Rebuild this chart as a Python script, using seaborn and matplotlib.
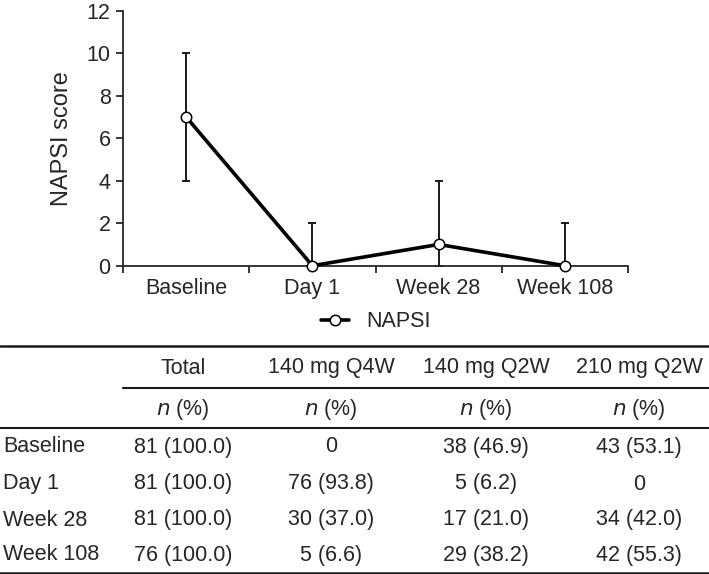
import numpy as np
import pandas as pd
import matplotlib
matplotlib.use('Agg')
import matplotlib.pyplot as plt
from matplotlib.lines import Line2D
import seaborn as sns

# ---- data ----
visits = ['Baseline', 'Day 1', 'Week 28', 'Week 108']
napsi_median = [7, 0, 1, 0]
napsi_low = [4, 0, 0, 0]
napsi_high = [10, 2, 4, 2]

col_heads = ['Total', '140 mg Q4W', '140 mg Q2W', '210 mg Q2W']
total_col = ['81 (100.0)', '81 (100.0)', '81 (100.0)', '76 (100.0)']
q4w_140_col = ['0', '76 (93.8)', '30 (37.0)', '5 (6.6)']
q2w_140_col = ['38 (46.9)', '5 (6.2)', '17 (21.0)', '29 (38.2)']
q2w_210_col = ['43 (53.1)', '0', '34 (42.0)', '42 (55.3)']

sns.set_style('ticks')
plt.rcParams['font.family'] = ['Liberation Sans', 'DejaVu Sans']
FS = 15.5

W, H = 709, 574
fig = plt.figure(figsize=(W / 100, H / 100), dpi=100)
ax = fig.add_axes([123 / W, 1 - 265.7 / H, (628 - 123) / W, (265.7 - 10.7) / H])

df = pd.DataFrame({'visit': visits, 'score': napsi_median})
pos = np.arange(len(visits))
med = np.array(napsi_median)
yerr = [med - np.array(napsi_low), np.array(napsi_high) - med]
ax.errorbar(pos, med, yerr=yerr, fmt='none', ecolor='#1a1a1a', elinewidth=1.4,
            capsize=3, capthick=1.4, zorder=2, clip_on=False)
sns.lineplot(data=df, x='visit', y='score', ax=ax, color='black', linewidth=2.6,
             marker='o', markersize=7.5, markerfacecolor='white',
             markeredgecolor='black', markeredgewidth=1.1, label='NAPSI',
             zorder=3, clip_on=False, sort=False)

ax.set_xlim(-0.5, 3.5)
ax.set_ylim(0, 12)
ax.set_yticks(range(0, 13, 2))
ax.set_xticks(np.arange(-0.5, 3.6, 1.0))
ax.set_xticklabels([])
ax.set_xticks(pos, minor=True)
ax.set_xticklabels(visits, minor=True)
ax.tick_params(axis='x', which='minor', length=0, pad=9, labelsize=FS)
ax.tick_params(axis='x', which='major', length=5, width=1.3, direction='out')
ax.tick_params(axis='y', length=5, width=1.3, labelsize=FS, pad=4)
ax.set_xlabel('')
ax.set_ylabel('NAPSI score', fontsize=FS + 1.5, labelpad=10)
for s in ['top', 'right']:
    ax.spines[s].set_visible(False)
for s in ['left', 'bottom']:
    ax.spines[s].set_linewidth(1.3)

leg = ax.legend(loc='center', bbox_to_anchor=(0.5, -0.22), frameon=False,
                fontsize=FS, handlelength=1.3, handletextpad=0.8)

# ---- table underneath ----
tab = fig.add_axes([0, 0, 1, 1])
tab.set_xlim(0, W)
tab.set_ylim(H, 0)
tab.axis('off')

for y, x0, lw in [(346, 0, 1.8), (388, 123, 1.5), (428, 0, 1.5), (573, 0, 1.8)]:
    tab.add_line(Line2D([x0, W], [y, y], color='#1a1a1a', lw=lw))

col_x = [183, 331, 486, 639]
for cx, head in zip(col_x, col_heads):
    tab.text(cx, 368, head, ha='center', va='center', fontsize=FS)
    tab.text(cx, 410, r'$\it{n}$ (%)', ha='center', va='center', fontsize=FS)

row_y = [447, 484, 520, 555]
columns = [total_col, q4w_140_col, q2w_140_col, q2w_210_col]
for i, (ry, name) in enumerate(zip(row_y, visits)):
    tab.text(3, ry, name, ha='left', va='center', fontsize=FS)
    for cx, col in zip(col_x, columns):
        tab.text(cx, ry, col[i], ha='center', va='center', fontsize=FS)

fig.savefig('out.png', dpi=100)
